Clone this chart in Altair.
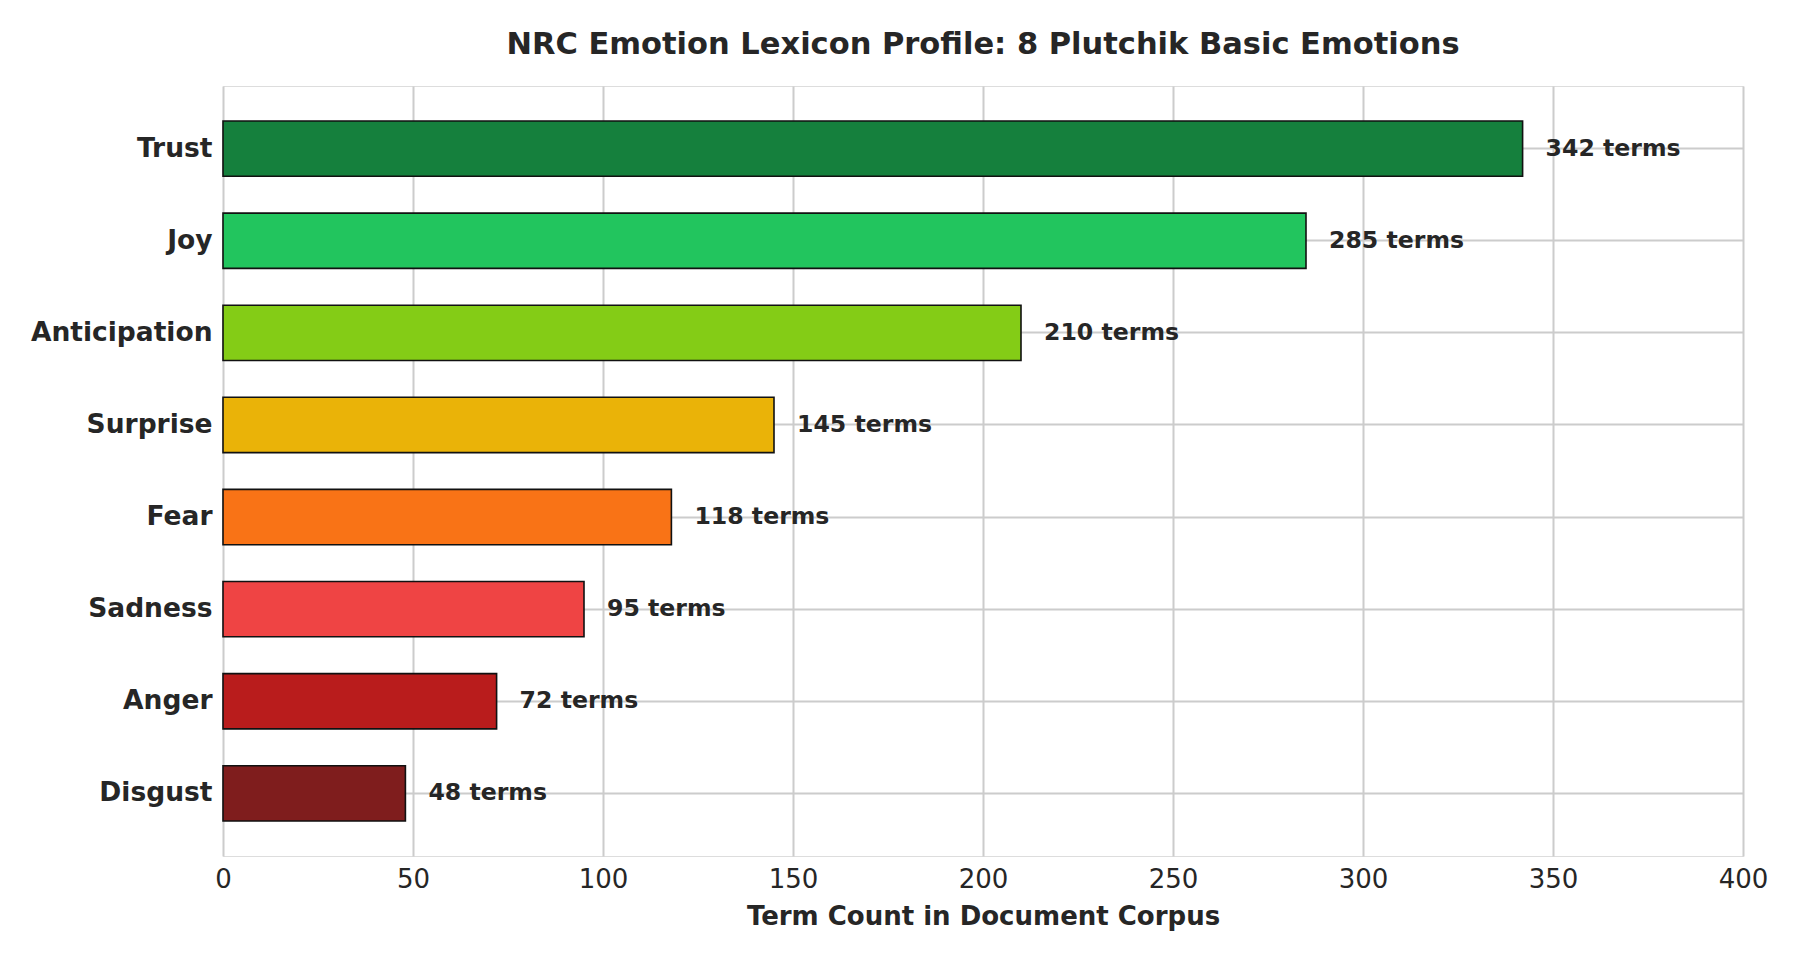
import altair as alt
import pandas as pd

emotions = ["Trust", "Joy", "Anticipation", "Surprise", "Fear", "Sadness", "Anger", "Disgust"]
counts = [342, 285, 210, 145, 118, 95, 72, 48]
colors = ["#15803d", "#22c55e", "#84cc16", "#eab308", "#f97316", "#ef4444", "#b91c1c", "#7f1d1d"]
x_ticks = [0, 50, 100, 150, 200, 250, 300, 350, 400]

df = pd.DataFrame({
    "emotion": emotions,
    "count": counts,
    "color": colors,
    "label": [f"{c} terms" for c in counts],
})

FONT = "DejaVu Sans"
TXT = "#262626"

y_enc = alt.Y(
    "emotion:N",
    sort=emotions,
    scale=alt.Scale(paddingInner=0.4, paddingOuter=0.38),
    axis=alt.Axis(
        title=None,
        bandPosition=0.5,
        labelFont=FONT,
        labelFontSize=26.5,
        labelFontWeight="bold",
        labelColor=TXT,
        labelPadding=11,
        labelLimit=500,
        ticks=False,
        domain=False,
        grid=True,
        gridColor="#cccccc",
        gridWidth=2,
    ),
)

x_enc = alt.X(
    "count:Q",
    scale=alt.Scale(domain=[0, 400], nice=False),
    axis=alt.Axis(
        values=x_ticks,
        title="Term Count in Document Corpus",
        titleFont=FONT,
        titleFontSize=26,
        titleFontWeight="bold",
        titleColor=TXT,
        titlePadding=11,
        labelFont=FONT,
        labelFontSize=26,
        labelColor=TXT,
        labelPadding=10,
        labelFlush=False,
        ticks=False,
        domain=False,
        grid=True,
        gridColor="#cccccc",
        gridWidth=2,
    ),
)

bars = alt.Chart(df).mark_bar(stroke="#111111", strokeWidth=1.6).encode(
    x=x_enc,
    y=y_enc,
    color=alt.Color("color:N", scale=None),
)

labels = alt.Chart(df).mark_text(
    align="left", baseline="middle", dx=23, font=FONT, fontSize=23.6,
    fontWeight="bold", color=TXT,
).encode(
    x=alt.X("count:Q"),
    y=alt.Y("emotion:N", sort=emotions),
    text="label:N",
)

chart = (bars + labels).properties(
    width=1520,
    height=770,
    title=alt.TitleParams(
        "NRC Emotion Lexicon Profile: 8 Plutchik Basic Emotions",
        font=FONT, fontSize=30.5, fontWeight="bold", color=TXT,
        anchor="middle", offset=26,
    ),
    autosize=alt.AutoSizeParams(type="none"),
    padding={"left": 215, "top": 78, "right": 40, "bottom": 100},
).configure_view(
    stroke="#cccccc", strokeWidth=2.6,
).configure(background="white")

chart.save("out.html", embed_options={"renderer": "svg", "actions": False})
